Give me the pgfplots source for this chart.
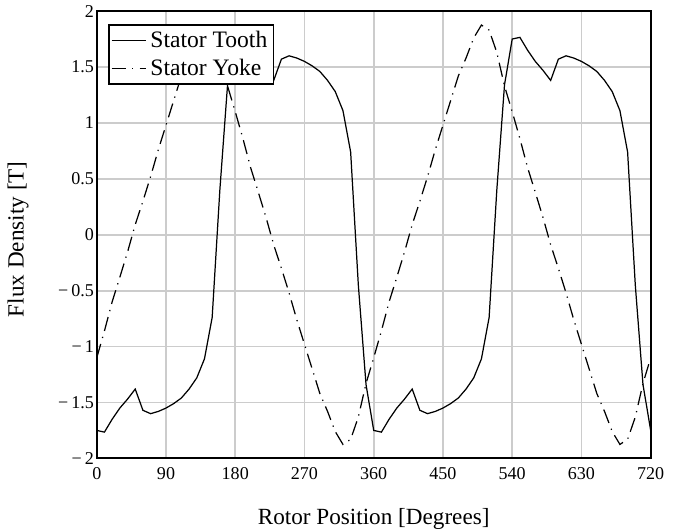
\documentclass[border=0pt]{standalone}
\usepackage{fontspec}
\setmainfont{Liberation Serif}
\usepackage{pgfplots}
\pgfplotsset{compat=1.18}
\begin{document}
\begin{tikzpicture}
\begin{axis}[
 name=ax,
 scale only axis,
 width=270.2pt, height=218.2pt,
 xmin=0, xmax=720, ymin=-2, ymax=2,
 xtick={0,90,180,270,360,450,540,630,720},
 xticklabels={0,90,180,270,360,450,540,630,720},
 ytick={-2,-1.5,-1,-0.5,0,0.5,1,1.5,2},
 yticklabels={−\,2,−\,1.5,−\,1,−\,0.5,0,0.5,1,1.5,2},
 major tick length=0pt,
 grid=major,
 major grid style={line width=0.9pt, color=black!20},
 axis line style={line width=0.9pt},
 tick label style={font=\fontsize{8.8}{10.5}\selectfont},
 xticklabel style={inner sep=0pt, yshift=-4.2pt},
 yticklabel style={inner sep=0pt, xshift=-1.2pt},
 label style={font=\fontsize{11.3}{13}\selectfont},
 xlabel={Rotor Position [Degrees]},
 ylabel={Flux Density [T]},
 xlabel style={at={(axis description cs:0.5,-0.135)}, anchor=center},
 ylabel style={at={(axis description cs:-0.142,0.49)}, anchor=center},
 legend style={at={(axis description cs:0.0204,0.971)}, anchor=north west, draw=black, line width=0.9pt, font=\fontsize{11.5}{13.5}\selectfont, inner sep=1pt, row sep=0pt, fill=white},
 legend cell align=left,
 legend image code/.code={\draw[#1, line width=0.6pt] (0pt,0pt) -- (16.6pt,0pt);},
]
\addplot[black, line width=0.6pt] coordinates {
(0,-1.75) (10,-1.765) (20,-1.65) (30,-1.55) (40,-1.47) (50,-1.38) (60,-1.57) (70,-1.60) (80,-1.58) (90,-1.55)
(100,-1.51) (110,-1.46) (120,-1.38) (130,-1.28) (140,-1.11) (150,-0.74) (160,0.40) (170,1.34) (180,1.75) (190,1.765)
(200,1.65) (210,1.55) (220,1.47) (230,1.38) (240,1.57) (250,1.60) (260,1.58) (270,1.55) (280,1.51) (290,1.46)
(300,1.38) (310,1.28) (320,1.11) (330,0.74) (340,-0.45) (350,-1.34) (360,-1.75)
(370,-1.765) (380,-1.65) (390,-1.55) (400,-1.47) (410,-1.38) (420,-1.57) (430,-1.60) (440,-1.58) (450,-1.55)
(460,-1.51) (470,-1.46) (480,-1.38) (490,-1.28) (500,-1.11) (510,-0.74) (520,0.40) (530,1.34) (540,1.75) (550,1.765)
(560,1.65) (570,1.55) (580,1.47) (590,1.38) (600,1.57) (610,1.60) (620,1.58) (630,1.55) (640,1.51) (650,1.46)
(660,1.38) (670,1.28) (680,1.11) (690,0.74) (700,-0.45) (710,-1.34) (720,-1.75)
};
\addlegendentry{Stator Tooth}
\addplot[black, line width=0.6pt, dash pattern=on 7pt off 3pt on 0.6pt off 3pt] coordinates {
(0,-1.10) (10,-0.86) (20,-0.60) (30,-0.38) (40,-0.155) (50,0.09) (60,0.30) (70,0.52) (80,0.76) (90,0.98)
(100,1.20) (110,1.42) (120,1.58) (130,1.76) (140,1.875) (150,1.83) (160,1.63) (170,1.33) (180,1.10) (190,0.86)
(200,0.60) (210,0.38) (220,0.155) (230,-0.09) (240,-0.30) (250,-0.52) (260,-0.76) (270,-0.98) (280,-1.20) (290,-1.42)
(300,-1.58) (310,-1.76) (320,-1.875) (330,-1.83) (340,-1.63) (350,-1.33) (360,-1.10)
(370,-0.86) (380,-0.60) (390,-0.38) (400,-0.155) (410,0.09) (420,0.30) (430,0.52) (440,0.76) (450,0.98)
(460,1.20) (470,1.42) (480,1.58) (490,1.76) (500,1.875) (510,1.83) (520,1.63) (530,1.33) (540,1.10) (550,0.86)
(560,0.60) (570,0.38) (580,0.155) (590,-0.09) (600,-0.30) (610,-0.52) (620,-0.76) (630,-0.98) (640,-1.20) (650,-1.42)
(660,-1.58) (670,-1.76) (680,-1.875) (690,-1.83) (700,-1.63) (710,-1.33) (720,-1.10)
};
\addlegendentry{Stator Yoke}
\end{axis}
\pgfresetboundingbox
\path ([shift={(-47.2pt,-35.9pt)}]ax.south west) rectangle ([shift={(14.3pt,5.4pt)}]ax.north east);
\end{tikzpicture}
\end{document}
